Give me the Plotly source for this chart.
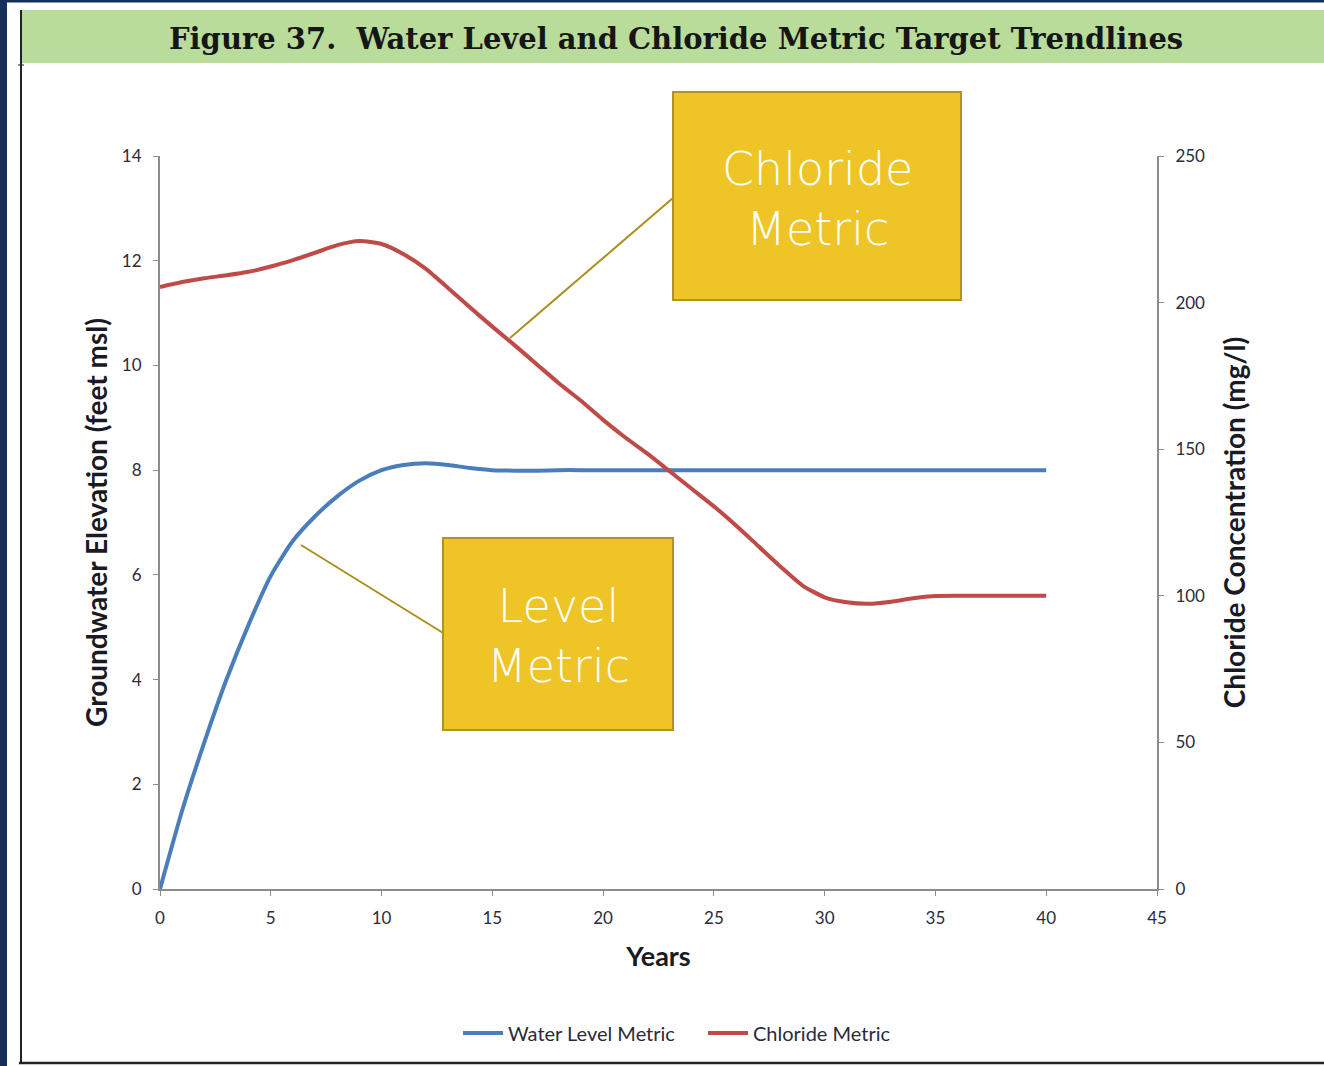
import plotly.graph_objects as go

# ---- data ----
years = list(range(0, 41))
water_level = [0.0, 1.5, 2.8, 4.0, 5.05, 5.98, 6.65, 7.12, 7.5, 7.8,
               8.0, 8.1, 8.13, 8.1, 8.04, 8.0, 7.99, 7.99, 8.0, 8.0,
               8.0, 8.0, 8.0, 8.0, 8.0, 8.0, 8.0, 8.0, 8.0, 8.0,
               8.0, 8.0, 8.0, 8.0, 8.0, 8.0, 8.0, 8.0, 8.0, 8.0, 8.0]
chloride = [205.3, 207.0, 208.3, 209.3, 210.5, 212.3, 214.5, 217.0, 219.6, 221.0,
            220.0, 216.5, 211.5, 205.0, 198.3, 191.8, 185.5, 179.0, 172.5, 166.5,
            160.0, 154.0, 148.5, 142.5, 136.5, 130.5, 124.0, 117.0, 110.0, 103.5,
            99.5, 97.8, 97.3, 98.0, 99.2, 99.9, 100.0, 100.0, 100.0, 100.0, 100.0]

x_ticks = [0, 5, 10, 15, 20, 25, 30, 35, 40, 45]
left_ticks = [0, 2, 4, 6, 8, 10, 12, 14]
right_ticks = [0, 50, 100, 150, 200, 250]

title_text = "Figure 37.  Water Level and Chloride Metric Target Trendlines"

W, H = 1324, 1066
L, R, T, B = 160, 1157, 156, 889


def px(x):
    return (x - L) / (R - L)


def py(y):
    return (B - y) / (B - T)


BLUE = "#4a7ebb"
RED = "#be4b48"
AXIS = "#8c8c8c"
TICKFONT = dict(family="Lato, Carlito, sans-serif", size=17, color="#2b2b3a")
TITLEFONT = dict(family="Lato, Carlito, sans-serif", size=28, color="#1a1a24", weight="bold")
CALLFONT = dict(family="DejaVu Sans, sans-serif", size=46, color="white", weight=300)

fig = go.Figure()
fig.add_trace(go.Scatter(x=years, y=water_level, name="Water Level Metric",
                         mode="lines", line=dict(color=BLUE, width=4, shape="spline", smoothing=0.6),
                         yaxis="y"))
fig.add_trace(go.Scatter(x=years, y=chloride, name="Chloride Metric",
                         mode="lines", line=dict(color=RED, width=4, shape="spline", smoothing=0.6),
                         yaxis="y2"))

shapes = []
# page decorations
shapes.append(dict(type="rect", xref="paper", yref="paper", x0=px(-2), x1=px(7), y0=py(H + 2), y1=py(-2),
                   fillcolor="#16305a", line=dict(width=0), layer="below"))
shapes.append(dict(type="rect", xref="paper", yref="paper", x0=px(-2), x1=px(W + 2), y0=py(2.5), y1=py(-2),
                   fillcolor="#16305a", line=dict(width=0), layer="below"))
shapes.append(dict(type="line", xref="paper", yref="paper", x0=px(21), x1=px(21), y0=py(10), y1=py(1063),
                   line=dict(color="#222222", width=2)))
shapes.append(dict(type="line", xref="paper", yref="paper", x0=px(18), x1=px(24), y0=py(65), y1=py(65),
                   line=dict(color="#222222", width=1)))
shapes.append(dict(type="line", xref="paper", yref="paper", x0=px(19), x1=px(W + 2), y0=py(1063), y1=py(1063),
                   line=dict(color="#222222", width=2.5)))
# title bar
shapes.append(dict(type="rect", xref="paper", yref="paper", x0=px(22), x1=px(W + 5), y0=py(63), y1=py(10),
                   fillcolor="#b9dc9b", line=dict(width=0), layer="below"))
# callout connectors
shapes.append(dict(type="line", xref="paper", yref="paper", x0=px(673), y0=py(198), x1=px(510), y1=py(338),
                   line=dict(color="#ab8f1c", width=2)))
shapes.append(dict(type="line", xref="paper", yref="paper", x0=px(448), y0=py(636), x1=px(301), y1=py(545),
                   line=dict(color="#ab8f1c", width=2)))
# callout boxes
shapes.append(dict(type="rect", xref="paper", yref="paper", x0=px(673), x1=px(961), y0=py(300), y1=py(92),
                   fillcolor="#efc426", line=dict(color="#b39224", width=2)))
shapes.append(dict(type="rect", xref="paper", yref="paper", x0=px(443), x1=px(673), y0=py(730), y1=py(538),
                   fillcolor="#efc426", line=dict(color="#b39224", width=2)))

annotations = []
annotations.append(dict(text="<b>" + title_text + "</b>", xref="paper", yref="paper",
                        x=px(676), y=py(39), xanchor="center", yanchor="middle", showarrow=False,
                        font=dict(family="DejaVu Serif, serif", size=29, color="#161616")))
annotations.append(dict(text="Chloride<br>Metric", xref="paper", yref="paper",
                        x=px(817), y=py(199), xanchor="center", yanchor="middle", showarrow=False,
                        font=CALLFONT, align="center"))
annotations.append(dict(text="Level<br>Metric", xref="paper", yref="paper",
                        x=px(558), y=py(636), xanchor="center", yanchor="middle", showarrow=False,
                        font=CALLFONT, align="center"))

fig.update_layout(
    width=W, height=H,
    margin=dict(l=L, r=W - R, t=T, b=H - B, autoexpand=False),
    paper_bgcolor="white", plot_bgcolor="white",
    shapes=shapes, annotations=annotations,
    showlegend=True,
    legend=dict(orientation="h", x=px(458), xanchor="left", y=py(1033), yanchor="middle",
                font=dict(family="Lato, Carlito, sans-serif", size=20, color="#2a2a3a"),
                bgcolor="rgba(0,0,0,0)", itemwidth=40, tracegroupgap=0,
                entrywidth=190, entrywidthmode="pixels"),
    xaxis=dict(range=[0, 45], tickvals=x_ticks, ticktext=[str(v) for v in x_ticks],
               showgrid=False, zeroline=False, showline=True, linecolor=AXIS, linewidth=2,
               ticks="outside", ticklen=5, tickcolor=AXIS, tickwidth=1, tickfont=TICKFONT,
               ticklabelstandoff=8,
               title=dict(text="Years", font=dict(TITLEFONT, size=27), standoff=20)),
    yaxis=dict(range=[0, 14], tickvals=left_ticks, showgrid=False, zeroline=False,
               showline=True, linecolor=AXIS, linewidth=2, ticks="outside", ticklen=5,
               tickcolor=AXIS, tickfont=TICKFONT, ticklabelstandoff=8,
               title=dict(text="Groundwater Elevation (feet msl)", font=TITLEFONT, standoff=6)),
    yaxis2=dict(range=[0, 250], tickvals=right_ticks, overlaying="y", side="right",
                showgrid=False, zeroline=False, showline=True, linecolor=AXIS, linewidth=2,
                ticks="outside", ticklen=5, tickcolor=AXIS, tickfont=TICKFONT,
                ticklabelstandoff=8,
                title=dict(text="Chloride Concentration (mg/l)", font=TITLEFONT, standoff=21)),
)

fig.write_html("out.html", config={"displayModeBar": False},
               post_script="document.body.style.margin='0px';")
